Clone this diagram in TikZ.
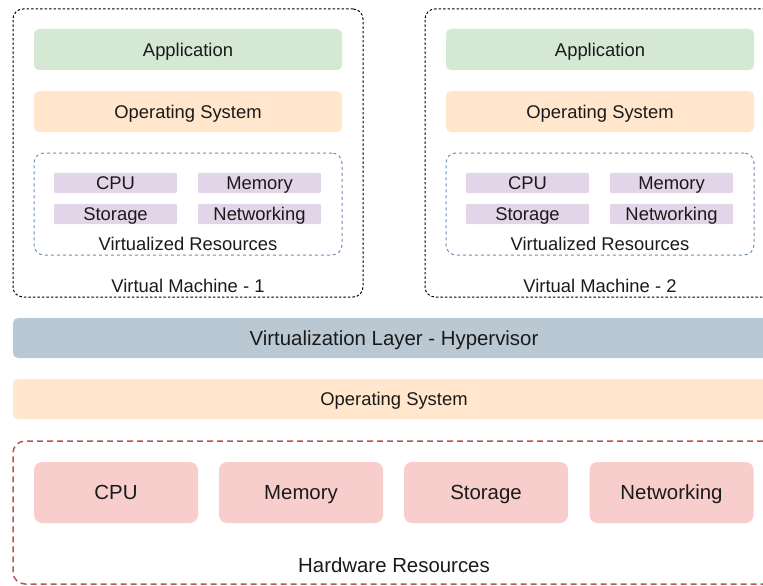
\documentclass[tikz,border=0pt]{standalone}
\usepackage{fontspec}
\setmainfont{Liberation Sans}
\definecolor{appg}{HTML}{D5E8D4}
\definecolor{osor}{HTML}{FFE6CC}
\definecolor{purp}{HTML}{E1D5E7}
\definecolor{hyp}{HTML}{BAC8D3}
\definecolor{hwr}{HTML}{F8CECC}
\definecolor{hwline}{HTML}{B85450}
\definecolor{vrline}{HTML}{6C8EBF}
\definecolor{txt}{HTML}{1A1A1A}
\tikzset{
  norm/.style={font=\fontsize{18.4}{22}\selectfont, text=txt, text height=17pt, text depth=3.4pt},
  big/.style={font=\fontsize{20.4}{24}\selectfont, text=txt, text height=18.6pt, text depth=3.8pt},
  vmbox/.style={draw=black, line width=1pt, dash pattern=on 2.5pt off 2pt, rounded corners=10pt, inner sep=0pt, minimum width=350pt, minimum height=288pt},
  layerbox/.style={norm, fill=#1, draw=none, rounded corners=5pt, inner sep=0pt, minimum width=308pt, minimum height=41pt},
  vrbox/.style={draw=vrline, line width=1pt, dash pattern=on 3pt off 3pt, rounded corners=10pt, inner sep=0pt, minimum width=308pt, minimum height=102pt},
  resbox/.style={norm, fill=purp, draw=none, rounded corners=2pt, inner sep=0pt, minimum width=123pt, minimum height=20pt},
  barbox/.style={fill=#1, draw=none, rounded corners=5pt, inner sep=0pt, minimum width=762pt, minimum height=40pt},
  hwbox/.style={big, fill=hwr, draw=none, rounded corners=8pt, inner sep=0pt, minimum width=164pt, minimum height=61pt},
  hwframe/.style={draw=hwline, line width=1.5pt, dash pattern=on 6pt off 4pt, rounded corners=12pt, inner sep=0pt, minimum width=762pt, minimum height=143pt},
  lbl/.style={norm, inner sep=0pt}
}
\begin{document}
\begin{tikzpicture}[x=1pt, y=-1pt]
\useasboundingbox (0,0) rectangle (763,586);
\clip (0,0) rectangle (763,586);
% VM 1
\node[vmbox] (vm1) at (188,153) {};
\node[layerbox=appg] (app1) at (188,49.5) {Application};
\node[layerbox=osor] (os1) at (188,111.5) {Operating System};
\node[vrbox] (vr1) at (188,204) {};
\node[resbox] (cpu1) at (115.5,183) {CPU};
\node[resbox] (mem1) at (259.5,183) {Memory};
\node[resbox] (sto1) at (115.5,214) {Storage};
\node[resbox] (net1) at (259.5,214) {Networking};
\node[lbl] (vrl1) at (188,244) {Virtualized Resources};
\node[lbl] (vml1) at (188,286) {Virtual Machine - 1};
% VM 2
\node[vmbox] (vm2) at (600,153) {};
\node[layerbox=appg] (app2) at (600,49.5) {Application};
\node[layerbox=osor] (os2) at (600,111.5) {Operating System};
\node[vrbox] (vr2) at (600,204) {};
\node[resbox] (cpu2) at (527.5,183) {CPU};
\node[resbox] (mem2) at (671.5,183) {Memory};
\node[resbox] (sto2) at (527.5,214) {Storage};
\node[resbox] (net2) at (671.5,214) {Networking};
\node[lbl] (vrl2) at (600,244) {Virtualized Resources};
\node[lbl] (vml2) at (600,286) {Virtual Machine - 2};
% Hypervisor and host OS
\node[barbox=hyp, big] (hypv) at (394,338) {Virtualization Layer - Hypervisor};
\node[barbox=osor, norm] (hostos) at (394,399) {Operating System};
% Hardware
\node[hwframe] (hw) at (394,512.5) {};
\node[hwbox] (hcpu) at (116,492.5) {CPU};
\node[hwbox] (hmem) at (301,492.5) {Memory};
\node[hwbox] (hsto) at (486,492.5) {Storage};
\node[hwbox] (hnet) at (671.5,492.5) {Networking};
\node[big, inner sep=0pt] (hwl) at (394,565) {Hardware Resources};
\end{tikzpicture}
\end{document}
